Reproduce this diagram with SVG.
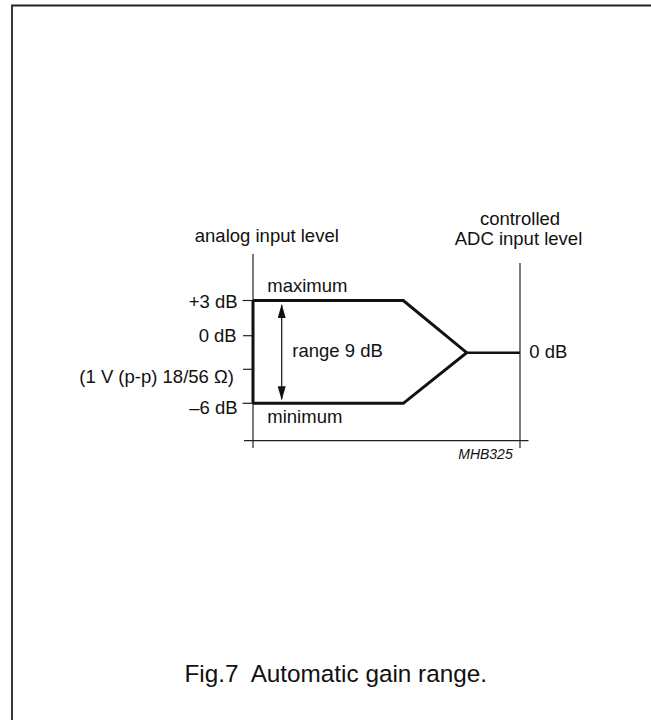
<svg xmlns="http://www.w3.org/2000/svg" width="651" height="720" viewBox="0 0 651 720">
<style>
text{font-family:"Liberation Sans",Arial,sans-serif;font-size:18.5px;fill:#111}
.thin{stroke:#222;stroke-width:1.2;fill:none}
.thick{stroke:#111;stroke-width:3;fill:none;stroke-linejoin:miter}
.end{text-anchor:end}
.mid{text-anchor:middle}
</style>
<defs>
<marker id="ah" viewBox="0 0 14 8" refX="13" refY="4" markerWidth="14" markerHeight="8" markerUnits="userSpaceOnUse" orient="auto">
<path d="M0,0 L14,4 L0,8 Z" fill="#111"/>
</marker>
</defs>
<rect width="651" height="720" fill="#fff"/>
<path d="M12,720 V5.5 H651" fill="none" stroke="#222" stroke-width="1.8"/>
<g id="axes">
<line class="thin" x1="253" y1="254" x2="253" y2="448"/>
<line class="thin" x1="520" y1="263" x2="520" y2="448"/>
<line class="thin" x1="244" y1="440.7" x2="528.5" y2="440.7"/>
<line class="thin" x1="242.5" y1="300.5" x2="253" y2="300.5"/>
<line class="thin" x1="243" y1="335.7" x2="253" y2="335.7"/>
<line class="thin" x1="243" y1="369.3" x2="253" y2="369.3"/>
<line class="thin" x1="242.5" y1="403.3" x2="253" y2="403.3"/>
</g>
<g id="connectors">
<path class="thick" d="M253,300.5 V403.3"/>
<path class="thick" d="M253,300.5 H403.3 L466.7,352.7 L403.3,403.3 H253"/>
<line x1="466" y1="352.7" x2="520" y2="352.7" stroke="#111" stroke-width="2.5"/>
<line x1="281.7" y1="352" x2="281.7" y2="305" stroke="#111" stroke-width="1.2" marker-end="url(#ah)"/>
<line x1="281.7" y1="352" x2="281.7" y2="399.3" stroke="#111" stroke-width="1.2" marker-end="url(#ah)"/>
</g>
<g id="labels-left">
<text x="266.8" y="242" class="mid">analog input level</text>
<text x="237.7" y="308.3" class="end">+3 dB</text>
<text x="236.7" y="341.7" class="end">0 dB</text>
<text x="234" y="382.5" class="end">(1 V (p-p) 18/56 Ω)</text>
<text x="237.7" y="413.5" class="end">–6 dB</text>
</g>
<g id="labels-inner">
<text x="267.3" y="292">maximum</text>
<text x="267.3" y="423.3">minimum</text>
<text x="292.3" y="356.7">range 9 dB</text>
</g>
<g id="labels-right">
<text x="520" y="225" class="mid">controlled</text>
<text x="518.5" y="245" class="mid">ADC input level</text>
<text x="529.3" y="358.3">0 dB</text>
<text x="512.7" y="459.3" class="end" style="font-size:14px;font-style:italic">MHB325</text>
</g>
<text x="487" y="682" class="end" style="font-size:24.3px;white-space:pre" xml:space="preserve">Fig.7  Automatic gain range.</text>
</svg>
